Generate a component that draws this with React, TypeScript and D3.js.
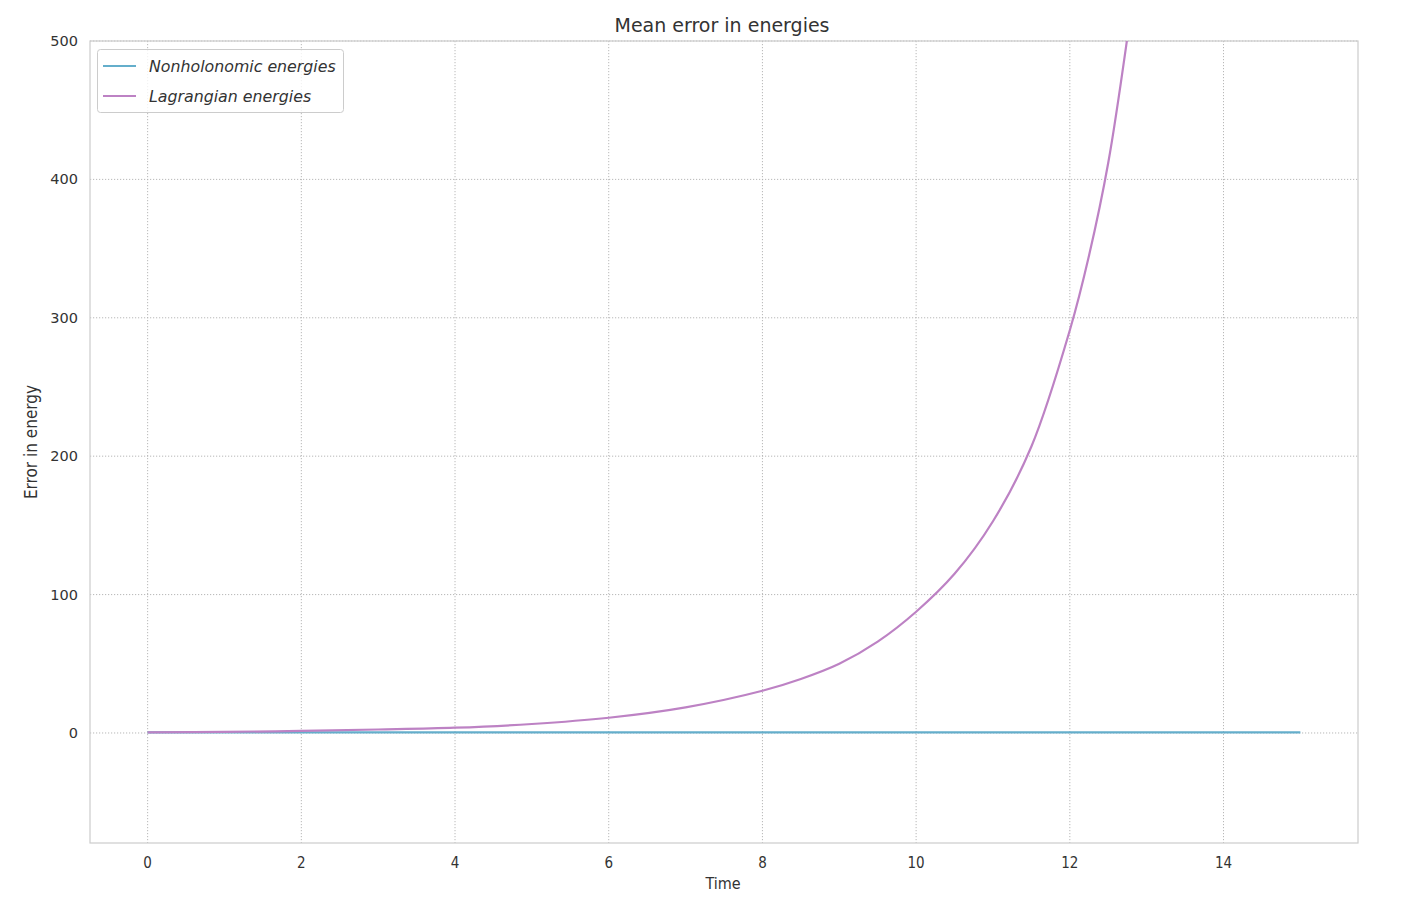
import React from "react";
import * as d3 from "d3";

const xTicks = [0, 2, 4, 6, 8, 10, 12, 14];
const yTicks = [0, 100, 200, 300, 400, 500];

const lagTime = [0, 1, 2, 3, 4, 5, 6, 7, 8, 8.5, 9, 9.5, 10, 10.5, 11, 11.5, 12, 12.25, 12.5, 12.75, 12.85];
const lagValues = [0.5, 0.8, 1.5, 2.5, 3.8, 6.5, 11, 18.5, 30.5, 39, 50, 66, 87.6, 115, 153, 207, 291, 345, 412, 503, 545];

const nonTime = [0, 3, 6, 9, 12, 15];
const nonValues = [0.4, 0.4, 0.4, 0.4, 0.4, 0.4];

const seriesNames = ["Nonholonomic energies", "Lagrangian energies"];
const seriesColors = ["#64aecb", "#bd82c4"];

export default function App() {
  const W = 1404, H = 908;
  const left = 90, right = 1358, top = 41, bottom = 843;
  const x = d3.scaleLinear().domain([-0.75, 15.75]).range([left, right]);
  const y = d3.scaleLinear().domain([-79.5, 500]).range([bottom, top]);

  const line = d3.line<[number, number]>()
    .x(d => x(d[0]))
    .y(d => y(d[1]))
    .curve(d3.curveCatmullRom.alpha(0.5));

  const lagData: [number, number][] = lagTime.map((t, i) => [t, lagValues[i]]);
  const nonData: [number, number][] = nonTime.map((t, i) => [t, nonValues[i]]);

  const font = "DejaVu Sans, sans-serif";
  const condFont = "DejaVu Sans Condensed, DejaVu Sans, sans-serif";
  const textColor = "#333333";

  return (
    <svg width={W} height={H} style={{ position: "absolute", left: 0, top: 0, background: "#fff" }}>
      <defs>
        <clipPath id="plotclip">
          <rect x={left} y={top} width={right - left} height={bottom - top} />
        </clipPath>
      </defs>
      <rect x={0} y={0} width={W} height={H} fill="#fff" />
      {xTicks.map(t => (
        <line key={"gx" + t} x1={x(t)} x2={x(t)} y1={top} y2={bottom}
          stroke="#b0b0b0" strokeWidth={0.9} strokeDasharray="1.2,1.8" />
      ))}
      {yTicks.map(t => (
        <line key={"gy" + t} x1={left} x2={right} y1={y(t)} y2={y(t)}
          stroke="#b0b0b0" strokeWidth={0.9} strokeDasharray="1.2,1.8" />
      ))}
      <rect x={left} y={top} width={right - left} height={bottom - top}
        fill="none" stroke="#cccccc" strokeWidth={1.2} />
      <g clipPath="url(#plotclip)">
        <path d={line(nonData) || ""} fill="none" stroke={seriesColors[0]} strokeWidth={2.2} />
        <path d={line(lagData) || ""} fill="none" stroke={seriesColors[1]} strokeWidth={2.2} />
      </g>
      {xTicks.map(t => (
        <text key={"tx" + t} x={x(t)} y={bottom + 25} textAnchor="middle"
          fontFamily={condFont} fontSize={15} fill={textColor}>{t}</text>
      ))}
      {yTicks.map(t => (
        <text key={"ty" + t} x={left - 12} y={y(t) + 5} textAnchor="end"
          fontFamily={font} fontSize={14.5} fill={textColor}>{t}</text>
      ))}
      <text x={(left + right) / 2 - 1} y={889} textAnchor="middle"
        fontFamily={condFont} fontSize={16} fill={textColor}>Time</text>
      <text transform={`translate(37, ${(top + bottom) / 2}) rotate(-90)`} textAnchor="middle"
        fontFamily={condFont} fontSize={17} fill={textColor}>Error in energy</text>
      <text x={(left + right) / 2 - 2} y={32} textAnchor="middle"
        fontFamily={font} fontSize={19} fill={textColor}>Mean error in energies</text>
      <rect x={97.5} y={49.5} width={246} height={63} rx={3} fill="#fff" fillOpacity={0.8}
        stroke="#cccccc" strokeWidth={1} />
      {seriesNames.map((n, i) => (
        <g key={n}>
          <line x1={103} x2={136} y1={66 + i * 30} y2={66 + i * 30}
            stroke={seriesColors[i]} strokeWidth={2.2} />
          <text x={149} y={71.5 + i * 30} fontFamily={font} fontStyle="italic"
            fontSize={15.8} fill={textColor}>{n}</text>
        </g>
      ))}
    </svg>
  );
}
